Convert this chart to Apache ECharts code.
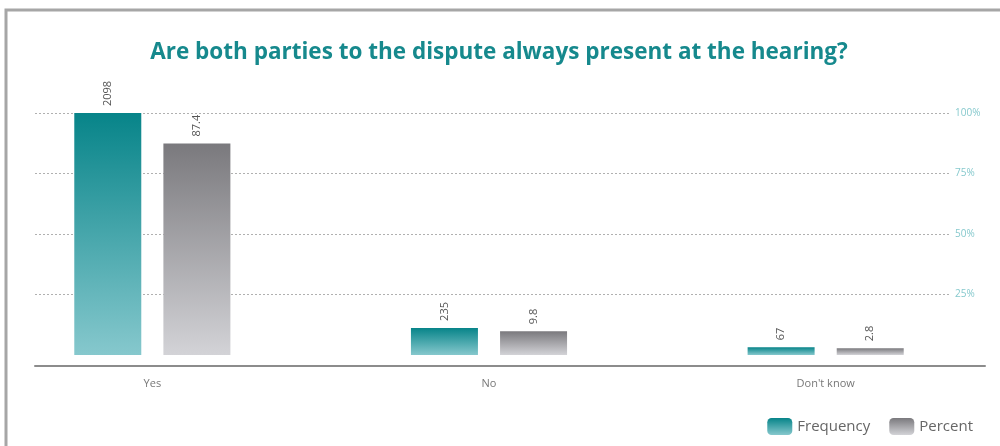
<!DOCTYPE html>
<html>
<head>
<meta charset="utf-8">
<script src="https://cdn.jsdelivr.net/npm/echarts@6/dist/echarts.min.js"></script>
<style>
html,body{margin:0;padding:0;background:#fff;}
#chart{width:1000px;height:446px;}
</style>
</head>
<body>
<div id="chart"></div>
<script>
var categories = ['Yes', 'No', "Don't know"];
var frequency = [2098, 235, 67];
var percent = [87.4, 9.8, 2.8];
var percentTicks = [0, 25, 50, 75, 100];
var titleText = 'Are both parties to the dispute always present at the hearing?';

var chart = echarts.init(document.getElementById('chart'));

function grad(top, bottom) {
  return new echarts.graphic.LinearGradient(0, 0, 0, 1, [
    { offset: 0, color: top },
    { offset: 1, color: bottom }
  ]);
}

var labelStyle = {
  show: true,
  position: 'top',
  rotate: 90,
  distance: 7,
  align: 'left',
  verticalAlign: 'middle',
  color: '#555',
  fontSize: 11,
  fontFamily: 'Open Sans'
};

var option = {
  backgroundColor: '#fff',
  animation: false,
  title: {
    text: titleText,
    left: 494,
    textAlign: 'center',
    top: 36,
    textStyle: { color: '#16898d', fontSize: 22.5, fontWeight: 'bold', fontFamily: 'Open Sans' }
  },
  graphic: [{
    type: 'polyline',
    shape: { points: [[6, 446], [6, 10], [1000, 10]] },
    style: { stroke: '#a6a6a6', lineWidth: 3, fill: null },
    silent: true
  }],
  legend: {
    right: 22,
    top: 413,
    itemWidth: 25,
    itemHeight: 17,
    itemGap: 19,
    textStyle: { color: '#666', fontSize: 15, fontFamily: 'Open Sans' },
    data: ['Frequency', 'Percent']
  },
  grid: [
    { left: -16, right: 6, top: 113, bottom: 91, outerBoundsMode: 'none' },
    { left: 35, right: 50, top: 113, bottom: 91, outerBoundsMode: 'none' },
    { left: 35, right: 15, top: 113, bottom: 91, outerBoundsMode: 'none' }
  ],
  xAxis: [
    {
      type: 'category', gridIndex: 0, data: categories, offset: 11,
      axisLine: { show: false }, axisTick: { show: false },
      axisLabel: { color: '#777', fontSize: 11, margin: 12, fontFamily: 'Open Sans' }
    },
    { type: 'value', gridIndex: 1, show: false },
    {
      type: 'value', gridIndex: 2, offset: 11,
      axisLine: { show: true, onZero: false, lineStyle: { color: '#8c8c8c', width: 2 } },
      axisTick: { show: false }, axisLabel: { show: false }, splitLine: { show: false }
    }
  ],
  yAxis: [
    { type: 'value', gridIndex: 0, min: 0, max: 2098, show: false },
    { type: 'value', gridIndex: 0, min: 0, max: 100, show: false },
    {
      type: 'value', gridIndex: 1, position: 'right', min: percentTicks[0],
      max: percentTicks[percentTicks.length - 1], interval: 25,
      axisLine: { show: false }, axisTick: { show: false },
      axisLabel: {
        color: '#86c9cd', fontSize: 10, margin: 5, fontFamily: 'Open Sans',
        showMinLabel: false,
        formatter: function (v) { return v + '%'; }
      },
      splitLine: { show: true, showMinLine: false, lineStyle: { color: '#b0b0b0', type: [2, 2], width: 1 } }
    },
    { type: 'value', gridIndex: 2, show: false }
  ],
  series: [
    {
      name: 'Frequency', type: 'bar', xAxisIndex: 0, yAxisIndex: 0,
      data: frequency, barWidth: 67, barGap: '33%',
      itemStyle: { color: grad('#078489', '#86c8cd') },
      label: labelStyle, z: 3
    },
    {
      name: 'Percent', type: 'bar', xAxisIndex: 0, yAxisIndex: 1,
      data: percent, barWidth: 67, barGap: '33%',
      itemStyle: { color: grad('#7a797d', '#d3d3d7') },
      label: labelStyle, z: 3
    }
  ]
};
chart.setOption(option);
</script>
</body>
</html>
